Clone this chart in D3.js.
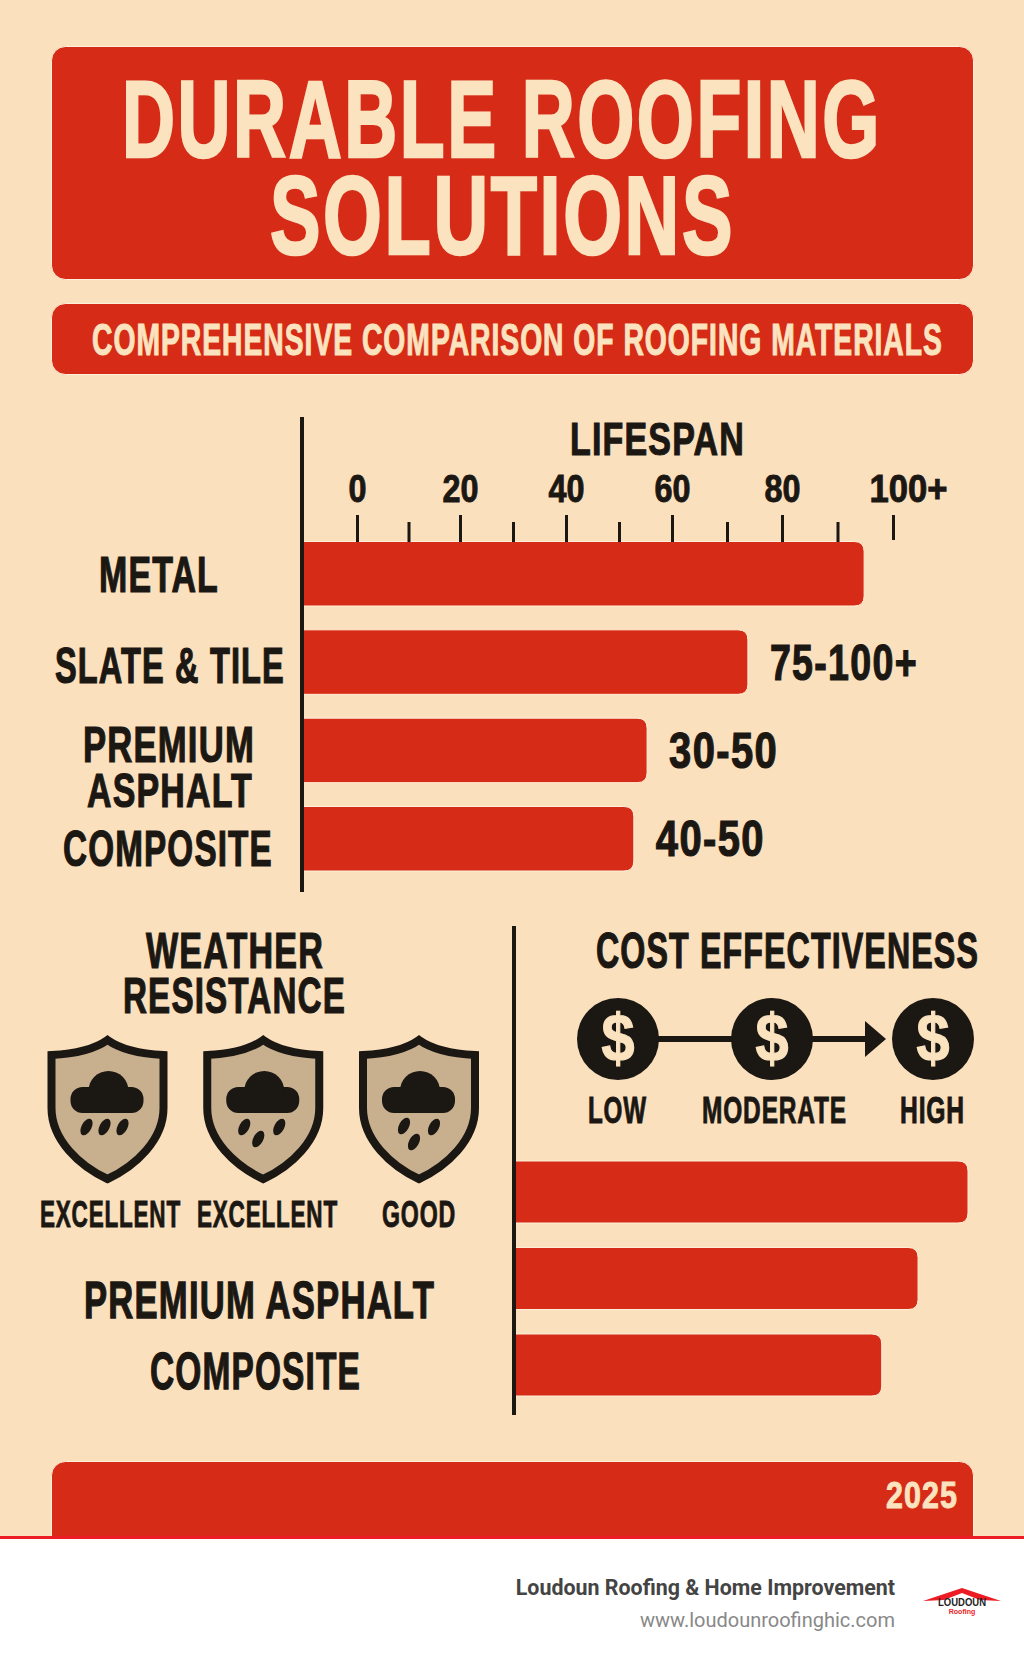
<!DOCTYPE html>
<html>
<head>
<meta charset="utf-8">
<title>Durable Roofing Solutions</title>
<script src="https://cdn.jsdelivr.net/npm/d3@7"></script>
<style>
  body { margin: 0; background: #fbe0bd; }
  svg { display: block; }
</style>
</head>
<body>
<script>
// values
const materials = ["METAL", "SLATE & TILE", "PREMIUM ASPHALT", "COMPOSITE"];
const lifespanValues = [94.8, 73.8, 55.3, 52.8];
const lifespanLabels = ["", "75-100+", "30-50", "40-50"];
const majorTicks = [0, 20, 40, 60, 80, 100];
const minorTicks = [10, 30, 50, 70, 90];
const weatherRatings = ["EXCELLENT", "EXCELLENT", "GOOD"];
const costLevels = ["LOW", "MODERATE", "HIGH"];
const costValues = [100, 89, 81];

const cream = "#fbe3bf", red = "#d52b17", ink = "#1b1713", tan = "#c8b08f";
const narrow = "'Liberation Sans Narrow', 'Liberation Sans', sans-serif";

const svg = d3.select("body").append("svg").attr("width", 1024).attr("height", 1666);

svg.append("rect").attr("width", 1024).attr("height", 1666).attr("fill", "#fbe0bd");

// fits a line of text in a box: x0-x1 wide, cap top to baseline
function label(parent, text, x0, x1, top, base, color) {
  const capH = base - top;
  const t = parent.append("text")
    .attr("font-family", narrow)
    .attr("font-weight", 700)
    .attr("font-size", capH / 0.69)
    .attr("letter-spacing", capH * 0.05)
    .attr("fill", color || ink)
    .attr("stroke", color || ink)
    .attr("stroke-width", capH * 0.035)
    .text(text);
  const sx = (x1 - x0) / t.node().getComputedTextLength();
  t.attr("transform", `translate(${x0},${base}) scale(${sx},1)`);
  return t;
}

// square on the left, rounded on the right
function barPath(x0, x1, y, h) {
  const r = 10;
  return `M${x0},${y}H${x1 - r}Q${x1},${y} ${x1},${y + r}V${y + h - r}Q${x1},${y + h} ${x1 - r},${y + h}H${x0}Z`;
}

function banner(y, h) {
  svg.append("rect").attr("x", 51.5).attr("y", y).attr("width", 922).attr("height", h)
    .attr("rx", 14).attr("fill", red).attr("stroke", "#fff0da").attr("stroke-width", 1);
}

/* Header */
banner(46.5, 233);
label(svg, "DURABLE ROOFING", 122, 882, 81, 157, cream);
label(svg, "SOLUTIONS", 270, 735, 177, 254, cream);
banner(303.5, 71);
label(svg, "COMPREHENSIVE COMPARISON OF ROOFING MATERIALS", 92, 943, 325, 355, cream);

/* Lifespan chart */
const lifeX = d3.scaleLinear().domain(majorTicks).range([357, 460, 566, 672, 782, 893]);
const lifeY = d3.scaleBand().domain(materials).range([541.5, 871]).paddingInner(0.27);

svg.append("g").selectAll("path").data(materials).join("path")
  .attr("d", (d, i) => barPath(302, lifeX(lifespanValues[i]), lifeY(d), lifeY.bandwidth()))
  .attr("fill", red).attr("stroke", "#fff0da").attr("stroke-width", 1);

const minorAxis = d3.axisTop(lifeX).tickValues(minorTicks).tickSize(20).tickFormat("");
const majorAxis = d3.axisTop(lifeX).tickValues(majorTicks).tickSize(27).tickPadding(13)
  .tickFormat(d => d === 100 ? "100+" : d);

svg.append("g").attr("transform", "translate(0,542)").call(minorAxis)
  .call(g => g.select(".domain").remove())
  .selectAll("line").attr("stroke", ink).attr("stroke-width", 3);

const majorG = svg.append("g").attr("transform", "translate(0,542)").call(majorAxis);
majorG.select(".domain").remove();
majorG.selectAll("line").attr("stroke", ink).attr("stroke-width", 3);
majorG.selectAll("text")
  .attr("font-family", narrow).attr("font-weight", 700).attr("font-size", 38)
  .attr("fill", ink).attr("stroke", ink).attr("stroke-width", 0.9)
  .attr("dx", d => d === 100 ? 15 : 0)
  .attr("textLength", d => d === 100 ? 78 : String(d).length * 18)
  .attr("lengthAdjust", "spacingAndGlyphs");
majorG.selectAll(".tick").filter(d => d === 100).select("line").attr("y2", -25).attr("transform", "translate(0,-2)");

svg.append("line").attr("x1", 302).attr("x2", 302).attr("y1", 417).attr("y2", 892)
  .attr("stroke", ink).attr("stroke-width", 4);

label(svg, "LIFESPAN", 570, 745, 423, 455);
label(svg, "METAL", 99, 219, 558, 592);
label(svg, "SLATE & TILE", 55, 285, 648, 683);
label(svg, "PREMIUM", 83, 255, 727, 762);
label(svg, "ASPHALT", 87, 253, 774, 807);
label(svg, "COMPOSITE", 63, 273, 831, 866);

// value labels sit to the right of the bars
const valueWidths = [0, 148, 109, 109];
const valueBase = [0, 680, 768, 856];
materials.forEach((m, i) => {
  if (!lifespanLabels[i]) return;
  const x0 = lifeX(lifespanValues[i]) + 22;
  label(svg, lifespanLabels[i], x0, x0 + valueWidths[i], valueBase[i] - 34, valueBase[i]);
});

/* Weather resistance */
label(svg, "WEATHER", 146, 324, 934, 968);
label(svg, "RESISTANCE", 123, 346, 979, 1013);

const shieldX = d3.scaleLinear().domain([0, 2]).range([107.5, 419]);
const shieldPath = "M0,4 C-14,14 -34,18 -56,19 V72 C-56,104 -28,130 0,143 C28,130 56,104 56,72 V19 C34,18 14,14 0,4Z";
const dropSets = [
  [[-21, 91], [-3, 91], [15, 91]],
  [[-19, 91], [-5, 103], [16, 91]],
  [[-15, 90], [-5, 106], [15, 91]]
];

weatherRatings.forEach((r, i) => {
  const g = svg.append("g").attr("transform", `translate(${shieldX(i)},1036)`);
  g.append("path").attr("d", shieldPath)
    .attr("fill", tan).attr("stroke", ink).attr("stroke-width", 8).attr("stroke-linejoin", "miter");
  g.append("rect").attr("x", -37).attr("y", 51).attr("width", 73).attr("height", 26)
    .attr("rx", 12).attr("fill", ink);
  g.append("circle").attr("cx", 1).attr("cy", 55).attr("r", 20).attr("fill", ink);
  g.selectAll("ellipse").data(dropSets[i]).join("ellipse")
    .attr("rx", 5).attr("ry", 9)
    .attr("transform", d => `translate(${d[0]},${d[1]}) rotate(28)`)
    .attr("fill", ink);
});

label(svg, weatherRatings[0], 40, 181, 1202, 1227);
label(svg, weatherRatings[1], 197, 338, 1202, 1227);
label(svg, weatherRatings[2], 382, 456, 1202, 1227);

label(svg, "PREMIUM ASPHALT", 84, 435, 1282, 1318);
label(svg, "COMPOSITE", 150, 361, 1353, 1389);

/* Cost effectiveness */
label(svg, "COST EFFECTIVENESS", 596, 979, 934, 968);

const costX = d3.scalePoint().domain(costLevels).range([618, 933]);
// moderate is not in the middle of the scale in the picture
const costCx = { LOW: costX("LOW"), MODERATE: 772, HIGH: costX("HIGH") };

svg.append("line").attr("x1", costCx.LOW).attr("x2", 868).attr("y1", 1039).attr("y2", 1039)
  .attr("stroke", ink).attr("stroke-width", 6);
svg.append("path").attr("d", "M865,1021L886,1039L865,1057Z").attr("fill", ink);

costLevels.forEach(level => {
  svg.append("circle").attr("cx", costCx[level]).attr("cy", 1039).attr("r", 41).attr("fill", ink);
  svg.append("text").attr("transform", `translate(${costCx[level]},1061) scale(0.9,1)`)
    .attr("text-anchor", "middle")
    .attr("font-family", "'Liberation Sans', sans-serif").attr("font-weight", 700)
    .attr("font-size", 66).attr("fill", cream).attr("stroke", cream).attr("stroke-width", 1.2).text("$");
});

label(svg, "LOW", 588, 647, 1097, 1123);
label(svg, "MODERATE", 702, 847, 1097, 1123);
label(svg, "HIGH", 900, 965, 1097, 1123);

const costScale = d3.scaleLinear().domain([0, 100]).range([514, 968]);
const costY = d3.scaleBand().domain(d3.range(costValues.length)).range([1161, 1396]).paddingInner(0.283);

svg.append("g").selectAll("path").data(costValues).join("path")
  .attr("d", (d, i) => barPath(514, costScale(d), costY(i), costY.bandwidth()))
  .attr("fill", red).attr("stroke", "#fff0da").attr("stroke-width", 1);

svg.append("line").attr("x1", 514).attr("x2", 514).attr("y1", 926).attr("y2", 1415)
  .attr("stroke", ink).attr("stroke-width", 4);

/* Bottom banner and footer */
banner(1461.5, 110);
label(svg, "2025", 886, 958, 1482, 1508, cream);

svg.append("rect").attr("y", 1536).attr("width", 1024).attr("height", 130).attr("fill", "#fff");
svg.append("rect").attr("y", 1536).attr("width", 1024).attr("height", 3).attr("fill", "#ed1c24");

svg.append("text").attr("x", 895).attr("y", 1595).attr("text-anchor", "end")
  .attr("font-family", "Roboto, sans-serif").attr("font-weight", 700).attr("font-size", 21.4)
  .attr("fill", "#444").text("Loudoun Roofing & Home Improvement");
svg.append("text").attr("x", 895).attr("y", 1627).attr("text-anchor", "end")
  .attr("font-family", "Roboto, sans-serif").attr("font-size", 20)
  .attr("fill", "#888").text("www.loudounroofinghic.com");

// small logo
const logo = svg.append("g");
logo.append("path").attr("d", "M923,1601L962,1588L1001,1601L980,1600L962,1593L944,1600Z")
  .attr("fill", "#ed1c24");
logo.append("text").attr("x", 962).attr("y", 1606).attr("text-anchor", "middle")
  .attr("font-family", "'Liberation Sans', sans-serif").attr("font-weight", 700).attr("font-size", 10.5)
  .attr("textLength", 48).attr("lengthAdjust", "spacingAndGlyphs")
  .attr("fill", "#222").text("LOUDOUN");
logo.append("text").attr("x", 962).attr("y", 1613.5).attr("text-anchor", "middle")
  .attr("font-family", "'Liberation Sans', sans-serif").attr("font-weight", 700).attr("font-size", 7)
  .attr("fill", "#ed1c24").text("Roofing");
</script>
</body>
</html>
